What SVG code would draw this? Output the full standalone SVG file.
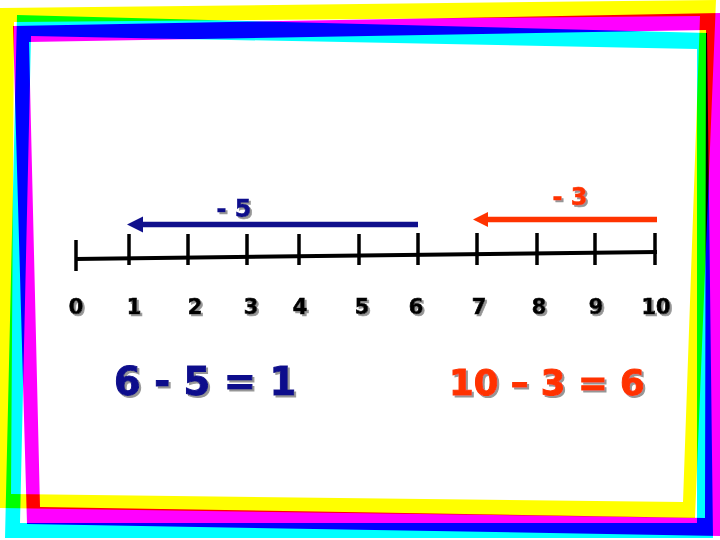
<svg xmlns="http://www.w3.org/2000/svg" width="720" height="540" viewBox="0 0 720 540">
<style>
.frame{fill-rule:evenodd;mix-blend-mode:multiply}
.tick{stroke:#000;stroke-width:3.5;fill:none}
.num{font-family:"DejaVu Sans","Liberation Sans",sans-serif;font-weight:bold;font-size:21px;fill:#000;stroke:#000;stroke-width:0.7;text-anchor:middle}
.lbl{font-family:"DejaVu Sans","Liberation Sans",sans-serif;font-weight:bold;font-size:24px;text-anchor:middle;stroke-width:0.6}
.eq{font-family:"DejaVu Sans","Liberation Sans",sans-serif;font-weight:bold;stroke-width:1}
.blue{fill:#10108C;stroke:#10108C}
.orange{fill:#FF3300;stroke:#FF3300}
</style>
<defs>
<filter id="sh" x="-10%" y="-10%" width="130%" height="140%">
<feDropShadow dx="2" dy="2" stdDeviation="0.6" flood-color="#8a8a8a" flood-opacity="0.9"/>
</filter>
</defs>
<rect x="0" y="0" width="720" height="540" fill="#fff"/>
<g id="frames">
<path class="frame" fill="#FFFF00" d="M0,8 L716,0 L695,518 L0,508 Z M14,22 L700,16 L683,502 L11,494 Z"/>
<path class="frame" fill="#00FFFF" d="M17,15 L707,33 L713,538 L5,538 Z M31,36 L697,49 L697,523 L20,523 Z"/>
<path class="frame" fill="#FF00FF" d="M13,26 L722,13 L722,536 L27,524 Z M29,42 L706,30 L705,518 L40,507 Z"/>
</g>
<g id="numberline">
<line x1="75" y1="259" x2="657" y2="252" stroke="#000" stroke-width="4"/>
<line class="tick" x1="76" y1="240" x2="76" y2="271"/>
<line class="tick" x1="129" y1="234" x2="129" y2="265"/>
<line class="tick" x1="188" y1="234" x2="188" y2="265"/>
<line class="tick" x1="247" y1="234" x2="247" y2="265"/>
<line class="tick" x1="299" y1="234" x2="299" y2="265"/>
<line class="tick" x1="359" y1="234" x2="359" y2="265"/>
<line class="tick" x1="418" y1="233" x2="418" y2="265"/>
<line class="tick" x1="477" y1="233" x2="477" y2="265"/>
<line class="tick" x1="537" y1="233" x2="537" y2="265"/>
<line class="tick" x1="595" y1="233" x2="595" y2="265"/>
<line class="tick" x1="655" y1="233" x2="655" y2="265"/>
</g>
<g id="labels" filter="url(#sh)">
<text class="num" x="76" y="314">0</text>
<text class="num" x="134" y="314">1</text>
<text class="num" x="195" y="314">2</text>
<text class="num" x="251" y="314">3</text>
<text class="num" x="300" y="314">4</text>
<text class="num" x="362" y="314">5</text>
<text class="num" x="416" y="314">6</text>
<text class="num" x="479" y="314">7</text>
<text class="num" x="539" y="314">8</text>
<text class="num" x="596" y="314">9</text>
<text class="num" x="656" y="314">10</text>
</g>
<g id="connectors">
<g id="arrow-minus5">
<line x1="418" y1="224.5" x2="140" y2="224.5" stroke="#10108C" stroke-width="5.5"/>
<polygon points="127,224.5 143,216.5 143,232.5" fill="#10108C"/>
</g>
<g id="arrow-minus3">
<line x1="657" y1="219.5" x2="485" y2="219.5" stroke="#FF3300" stroke-width="5.5"/>
<polygon points="473,219.5 488,212 488,227" fill="#FF3300"/>
</g>
</g>
<g id="step-labels" filter="url(#sh)">
<text class="lbl blue" x="234" y="217">- 5</text>
<text class="lbl orange" x="570" y="205">- 3</text>
</g>
<g id="equations" filter="url(#sh)">
<text id="eq1" class="eq blue" x="114" y="395" font-size="38.5">6 - 5 = 1</text>
<text id="eq2" class="eq orange" x="449" y="395" font-size="35.5">10 – 3 = 6</text>
</g>
</svg>
